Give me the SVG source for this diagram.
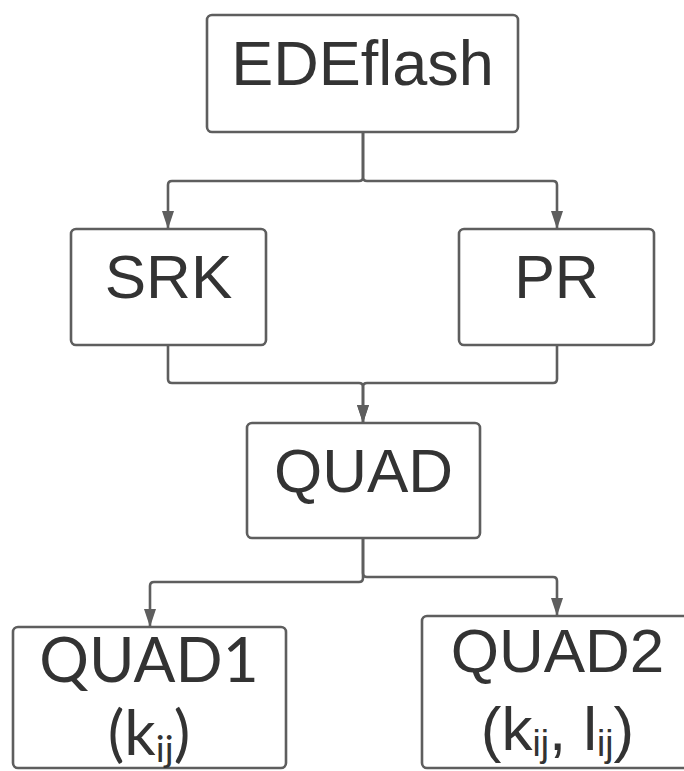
<svg xmlns="http://www.w3.org/2000/svg" width="684" height="771" viewBox="0 0 684 771">
  <defs>
    <marker id="arrow" markerUnits="userSpaceOnUse" markerWidth="20" markerHeight="14" refX="18" refY="6.5" orient="auto">
      <path d="M0,0.5 L18,6.5 L0,12.5 z" fill="#5e5e5e"/>
    </marker>
    <style>
      .box { fill: #ffffff; stroke: #5e5e5e; stroke-width: 2.6; }
      .edge { fill: none; stroke: #5e5e5e; stroke-width: 2.6; marker-end: url(#arrow); }
      .lbl { fill: #333333; font-family: "Liberation Sans", Arial, sans-serif; font-size: 63px; text-anchor: middle; }
      .lato { font-family: Lato, "Liberation Sans", sans-serif; font-size: 62px; }
      .sub { font-size: 37px; }
    </style>
  </defs>
  <rect width="684" height="771" fill="#ffffff"/>

  <!-- connectors -->
  <g id="connectors">
    <path class="edge" d="M363,132 V177 Q363,181 359,181 H172 Q168,181 168,185 V229"/>
    <path class="edge" d="M363,132 V177 Q363,181 367,181 H553 Q557,181 557,185 V229"/>
    <path class="edge" d="M168,345 V379 Q168,383 172,383 H359 Q363,383 363,387 V423"/>
    <path class="edge" d="M557,345 V379 Q557,383 553,383 H367 Q363,383 363,387 V423"/>
    <path class="edge" d="M363,538 V578 Q363,582 359,582 H154 Q150,582 150,586 V627"/>
    <path class="edge" d="M363,538 V573 Q363,577 367,577 H553 Q557,577 557,581 V616"/>
  </g>

  <!-- nodes -->
  <g id="edeflash">
    <rect class="box" x="207" y="15" width="311" height="117" rx="5"/>
    <text class="lbl" x="362.5" y="85">EDEflash</text>
  </g>
  <g id="srk">
    <rect class="box" x="71" y="229" width="195" height="116" rx="5"/>
    <text class="lbl" x="168.5" y="298" style="font-size:62px">SRK</text>
  </g>
  <g id="pr">
    <rect class="box" x="459" y="229" width="195" height="116" rx="5"/>
    <text class="lbl" x="556.5" y="298" style="font-size:61px">PR</text>
  </g>
  <g id="quad">
    <rect class="box" x="247" y="423" width="233" height="115" rx="5"/>
    <text class="lbl" x="363.5" y="492" style="font-size:62px">QUAD</text>
  </g>
  <g id="quad1">
    <rect class="box" x="13" y="627" width="273" height="141" rx="5"/>
    <text class="lbl lato" x="149" y="682">QUAD1</text>
    <text class="lbl lato" x="149" y="755">(k<tspan class="sub" dy="7">ij</tspan><tspan dy="-7">)</tspan></text>
  </g>
  <g id="quad2">
    <rect class="box" x="422" y="616" width="270" height="152" rx="5"/>
    <text class="lbl" x="557.5" y="672" style="font-size:62px">QUAD2</text>
    <text class="lbl" x="557.5" y="750" style="font-size:62px">(k<tspan class="sub" dy="6">ij</tspan><tspan dy="-6">, l</tspan><tspan class="sub" dy="6">ij</tspan><tspan dy="-6">)</tspan></text>
  </g>
</svg>
